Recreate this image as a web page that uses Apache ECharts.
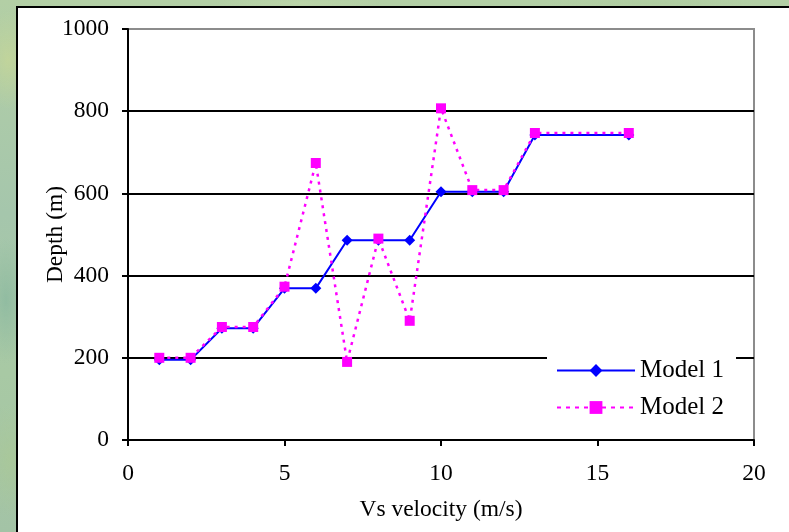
<!DOCTYPE html>
<html>
<head>
<meta charset="utf-8">
<script src="https://cdn.jsdelivr.net/npm/echarts@6/dist/echarts.min.js"></script>
<style>
  html, body { margin: 0; padding: 0; width: 789px; height: 532px; overflow: hidden; }
  body {
    background:
      radial-gradient(ellipse 40px 70px at 8px 60px, rgba(200,215,150,0.7), rgba(200,215,150,0) 70%),
      radial-gradient(ellipse 30px 90px at 6px 300px, rgba(140,185,160,0.8), rgba(140,185,160,0) 70%),
      radial-gradient(ellipse 40px 80px at 10px 460px, rgba(170,200,150,0.7), rgba(170,200,150,0) 70%),
      radial-gradient(ellipse 120px 10px at 300px 3px, rgba(190,215,170,0.8), rgba(190,215,170,0) 70%),
      radial-gradient(ellipse 150px 10px at 650px 3px, rgba(175,205,160,0.8), rgba(175,205,160,0) 70%),
      linear-gradient(180deg, #b3cfa5 0%, #a5c6ac 40%, #a8c9a4 70%, #a3c3a6 100%);
  }
  #panel {
    position: absolute; left: 16px; top: 6px; width: 800px; height: 560px;
    background: #ffffff; border-left: 2px solid #000; border-top: 2px solid #000;
  }
  #chart { position: absolute; left: 0; top: 0; width: 789px; height: 532px; }
</style>
</head>
<body>
<div id="panel"></div>
<div id="chart"></div>
<script>
// Shear-wave velocity vs depth for two layered models
const velocity = [1, 2, 3, 4, 5, 6, 7, 8, 9, 10, 11, 12, 13, 16];
const model1Depth = [195, 195, 272, 272, 369, 369, 486, 486, 486, 604, 604, 604, 742, 742];
const model2Depth = [200, 200, 275, 275, 373, 674, 190, 490, 290, 807, 608, 608, 747, 747];
const seriesNames = ['Model 1', 'Model 2'];
const xTitle = 'Vs velocity (m/s)';
const yTitle = 'Depth (m)';

const pairs = (xs, ys) => xs.map((x, i) => [x, ys[i]]);
const FONT = '"Liberation Serif", "Times New Roman", serif';

const chart = echarts.init(document.getElementById('chart'), null, { renderer: 'canvas' });
chart.setOption({
  backgroundColor: 'transparent',
  animation: false,
  textStyle: { fontFamily: FONT, color: '#000' },
  grid: {
    left: 128, right: 35, top: 29, bottom: 92,
    show: true, borderColor: '#8c8c8c', borderWidth: 2, backgroundColor: 'transparent'
  },
  legend: {
    left: 547, top: 352,
    orient: 'vertical',
    backgroundColor: '#ffffff',
    padding: [6, 12, 6, 9],
    itemWidth: 78, itemHeight: 16, itemGap: 12,
    textStyle: { fontFamily: FONT, fontSize: 25, color: '#000', lineHeight: 25 },
    data: [
      { name: seriesNames[0] },
      { name: seriesNames[1], lineStyle: { type: [4, 5], width: 2 } }
    ]
  },
  xAxis: {
    type: 'value', min: 0, max: 20, interval: 5,
    name: xTitle, nameLocation: 'middle', nameGap: 58,
    nameTextStyle: { fontFamily: FONT, fontSize: 23.5, color: '#000' },
    axisLine: { show: true, onZero: false, lineStyle: { color: '#000', width: 2 } },
    axisTick: { show: true, inside: false, length: 6, lineStyle: { color: '#000', width: 2 } },
    axisLabel: { fontFamily: FONT, fontSize: 23.5, color: '#000', margin: 22, formatter: v => String(v) },
    splitLine: { show: false }
  },
  yAxis: {
    type: 'value', min: 0, max: 1000, interval: 200,
    name: yTitle, nameLocation: 'middle', nameGap: 60, nameRotate: 90, nameMoveOverlap: false,
    nameTextStyle: { fontFamily: FONT, fontSize: 23.5, color: '#000' },
    axisLine: { show: true, onZero: false, lineStyle: { color: '#000', width: 2 } },
    axisTick: { show: true, inside: false, length: 6, lineStyle: { color: '#000', width: 2 } },
    axisLabel: { fontFamily: FONT, fontSize: 23.5, color: '#000', margin: 19, formatter: v => String(v) },
    splitLine: { show: true, showMinLine: false, showMaxLine: false, lineStyle: { color: '#000', width: 2 } }
  },
  series: [
    {
      name: seriesNames[0], type: 'line',
      data: pairs(velocity, model1Depth),
      symbol: 'diamond', symbolSize: 11,
      itemStyle: { color: '#0000ff' },
      lineStyle: { color: '#0000ff', width: 2, type: 'solid' },
      z: 3
    },
    {
      name: seriesNames[1], type: 'line',
      data: pairs(velocity, model2Depth),
      symbol: 'rect', symbolSize: 10,
      itemStyle: { color: '#ff00ff' },
      lineStyle: { color: '#ff00ff', width: 2.5, type: [3, 5] },
      z: 4
    }
  ]
});
</script>
</body>
</html>
